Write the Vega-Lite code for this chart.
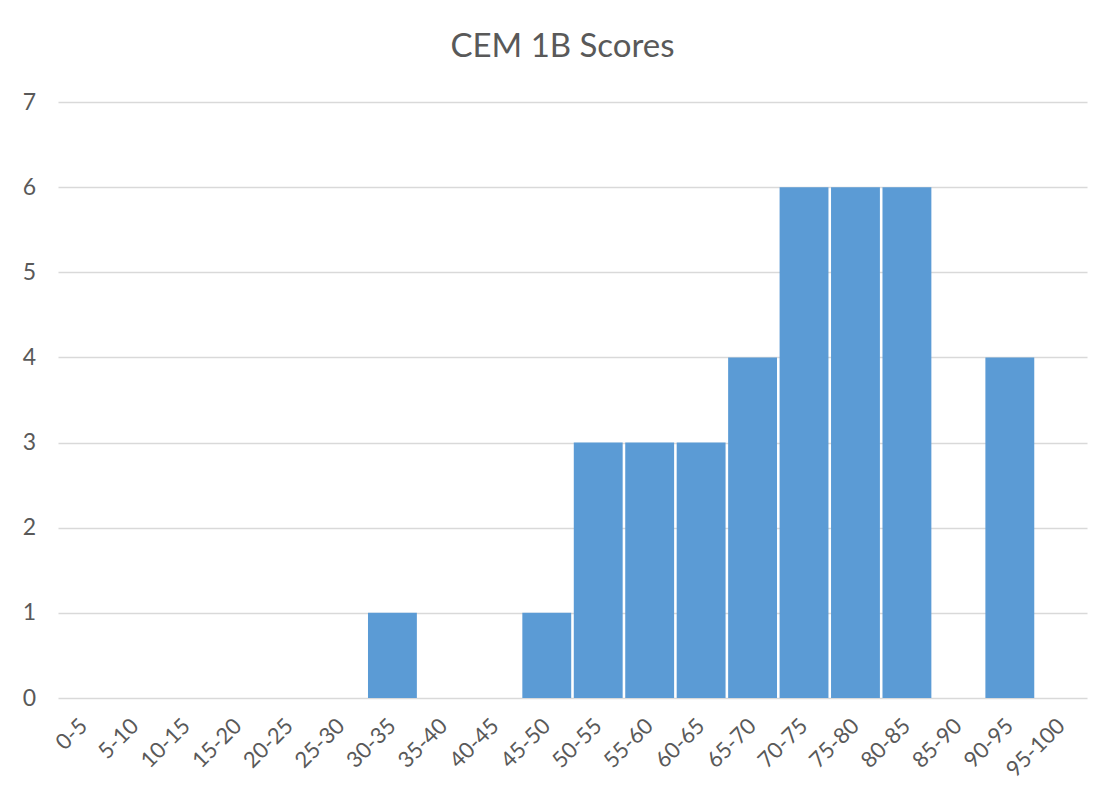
{
  "$schema": "https://vega.github.io/schema/vega-lite/v6.json",
  "width": 1029,
  "height": 596,
  "autosize": {"type": "none"},
  "padding": {"left": 58, "top": 102, "right": 26, "bottom": 101},
  "background": "white",
  "title": {
    "text": "CEM 1B Scores",
    "font": "Lato",
    "fontSize": 33,
    "fontWeight": "normal",
    "color": "#595959",
    "anchor": "middle",
    "frame": "group",
    "offset": 27,
    "dx": -10
  },
  "config": {
    "view": {"stroke": null},
    "font": "Lato"
  },
  "data": {
    "values": [
      {"range": "0-5", "count": 0},
      {"range": "5-10", "count": 0},
      {"range": "10-15", "count": 0},
      {"range": "15-20", "count": 0},
      {"range": "20-25", "count": 0},
      {"range": "25-30", "count": 0},
      {"range": "30-35", "count": 1},
      {"range": "35-40", "count": 0},
      {"range": "40-45", "count": 0},
      {"range": "45-50", "count": 1},
      {"range": "50-55", "count": 3},
      {"range": "55-60", "count": 3},
      {"range": "60-65", "count": 3},
      {"range": "65-70", "count": 4},
      {"range": "70-75", "count": 6},
      {"range": "75-80", "count": 6},
      {"range": "80-85", "count": 6},
      {"range": "85-90", "count": 0},
      {"range": "90-95", "count": 4},
      {"range": "95-100", "count": 0}
    ]
  },
  "mark": {"type": "bar", "color": "#5b9bd5"},
  "encoding": {
    "x": {
      "field": "range",
      "type": "nominal",
      "sort": null,
      "scale": {"paddingInner": 0.05, "paddingOuter": 0.025},
      "axis": {
        "title": null,
        "labelAngle": -45,
        "labelAlign": "right",
        "labelBaseline": "middle",
        "labelFontSize": 22,
        "labelColor": "#595959",
        "labelPadding": 24,
        "ticks": false,
        "domain": false,
        "grid": false
      }
    },
    "y": {
      "field": "count",
      "type": "quantitative",
      "scale": {"domain": [0, 7], "nice": false},
      "axis": {
        "title": null,
        "values": [0, 1, 2, 3, 4, 5, 6, 7],
        "labelFontSize": 23,
        "labelColor": "#595959",
        "labelPadding": 29,
        "labelAlign": "center",
        "ticks": false,
        "domain": false,
        "grid": true,
        "gridColor": "#d9d9d9",
        "gridWidth": 1.5
      }
    }
  }
}
